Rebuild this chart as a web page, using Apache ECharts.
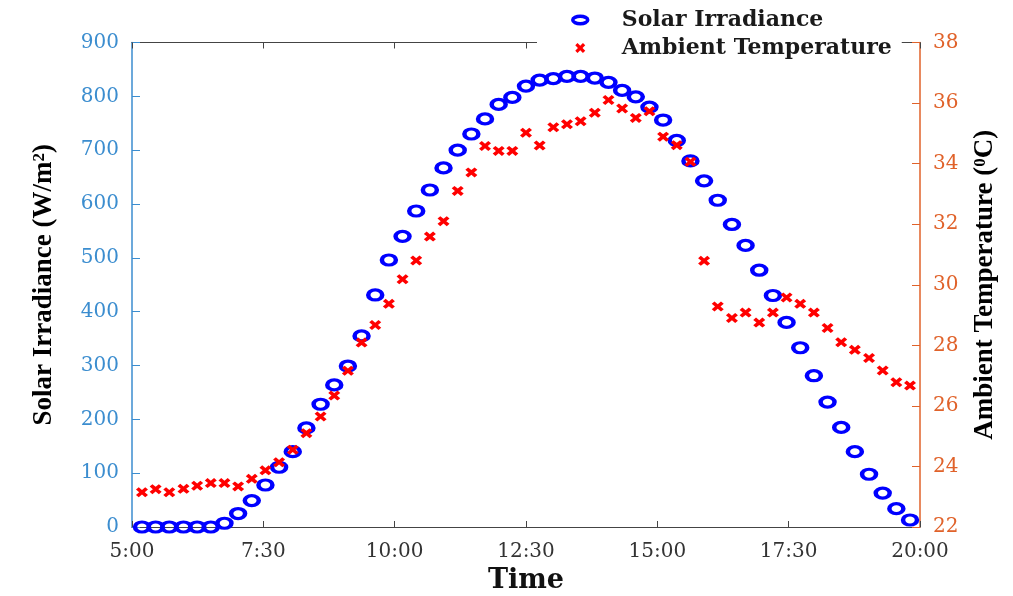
<!DOCTYPE html>
<html>
<head>
<meta charset="utf-8">
<title>Solar Irradiance and Ambient Temperature</title>
<script src="https://cdn.jsdelivr.net/npm/echarts@6.0.0/dist/echarts.min.js"></script>
<style>
  html, body { margin: 0; padding: 0; background: #fff; }
  #chart { width: 1013px; height: 596px; }
</style>
</head>
<body>
<div id="chart"></div>
<script>
// time of each reading, in hours of the day
var hours = [
  5.19, 5.45, 5.71, 5.98, 6.24, 6.50, 6.76, 7.02, 7.28, 7.54,
  7.80, 8.06, 8.32, 8.59, 8.85, 9.11, 9.37, 9.63, 9.89, 10.15,
  10.41, 10.67, 10.93, 11.20, 11.46, 11.72, 11.98, 12.24, 12.50, 12.76,
  13.02, 13.28, 13.54, 13.81, 14.07, 14.33, 14.59, 14.85, 15.11, 15.37,
  15.63, 15.89, 16.15, 16.42, 16.68, 16.94, 17.20, 17.46, 17.72, 17.98,
  18.24, 18.50, 18.76, 19.03, 19.29, 19.55, 19.81
];

// solar irradiance, W/m2
var irradiance = [
  0, 0, 0, 0, 0, 0, 7, 25, 49, 78,
  111, 140, 184, 228, 264, 299, 355, 431, 496, 540,
  587, 626, 667, 700, 730, 758, 785, 798, 819, 830,
  833, 837, 837, 834, 826, 811, 799, 780, 756, 718,
  680, 643, 607, 562, 523, 477, 430, 380, 333, 281,
  232, 185, 140, 98, 63, 34, 13
];

// ambient temperature, degC
var temperature = [
  23.15, 23.25, 23.15, 23.26, 23.36, 23.45, 23.45, 23.34, 23.59, 23.87,
  24.14, 24.55, 25.10, 25.65, 26.34, 27.16, 28.09, 28.67, 29.37, 30.18,
  30.80, 31.59, 32.10, 33.10, 33.71, 34.58, 34.42, 34.42, 35.02, 34.60,
  35.20, 35.30, 35.40, 35.68, 36.10, 35.82, 35.51, 35.73, 34.89, 34.61,
  34.06, 30.79, 29.28, 28.90, 29.08, 28.75, 29.08, 29.58, 29.37, 29.08,
  28.57, 28.10, 27.85, 27.58, 27.17, 26.78, 26.67
];

var seriesNames = ['Solar Irradiance', 'Ambient Temperature'];

var blue = '#3b8dcf';
var orange = '#e0622a';
var serif = 'DejaVu Serif';
var times = 'Liberation Serif';

var ringPath = 'path://M0,5A10,5,0,1,1,20,5A10,5,0,1,1,0,5Z';
var crossPath = 'path://M0,2.3L2.3,0L5,2.7L7.7,0L10,2.3L7.3,5L10,7.7L7.7,10L5,7.3L2.3,10L0,7.7L2.7,5Z';

function pairs(ys) {
  return hours.map(function (h, i) { return [h, ys[i]]; });
}

function timeLabel(v) {
  var h = Math.floor(v);
  var m = Math.round((v - h) * 60);
  return h + ':' + (m < 10 ? '0' + m : m);
}

var chart = echarts.init(document.getElementById('chart'));

var option = {
  animation: false,
  backgroundColor: '#fff',
  grid: {
    left: 132, right: 93, top: 42.5, bottom: 69,
    containLabel: false, outerBoundsMode: 'none'
  },
  legend: {
    orient: 'vertical',
    left: 537, top: 4,
    padding: [4, 10, 4, 34],
    backgroundColor: '#fff',
    itemWidth: 15, itemHeight: 10,
    itemGap: 4,
    selectedMode: false,
    textStyle: {
      fontFamily: serif, fontSize: 22, fontWeight: 'bold', color: '#1a1a1a',
      lineHeight: 24, padding: [0, 0, 0, 29]
    },
    data: [
      {
        name: seriesNames[0], icon: ringPath,
        itemStyle: { color: 'rgba(0,0,0,0)', borderColor: '#0000ff', borderWidth: 3.5 }
      },
      {
        name: seriesNames[1], icon: crossPath,
        itemStyle: { color: '#ff0000', borderWidth: 0 }
      }
    ]
  },
  xAxis: [
    {
      type: 'value', position: 'bottom',
      min: 5, max: 20, interval: 2.5,
      name: 'Time', nameLocation: 'middle', nameGap: 40,
      nameTextStyle: { fontFamily: serif, fontSize: 27, fontWeight: 'bold', color: '#111' },
      axisLine: { show: true, lineStyle: { color: '#444', width: 1 } },
      axisTick: { show: true, inside: true, length: 6, lineStyle: { color: '#444' } },
      axisLabel: { formatter: timeLabel, fontFamily: serif, fontSize: 20, color: '#333', margin: 15 },
      splitLine: { show: false }
    },
    {
      type: 'value', position: 'top',
      min: 5, max: 20, interval: 2.5,
      axisLine: { show: true, lineStyle: { color: '#444', width: 1 } },
      axisTick: { show: true, inside: true, length: 6, lineStyle: { color: '#444' } },
      axisLabel: { show: false },
      splitLine: { show: false }
    }
  ],
  yAxis: [
    {
      type: 'value', position: 'left',
      min: 0, max: 900, interval: 100,
      name: 'Solar Irradiance (W/m{s|2})',
      nameLocation: 'middle', nameRotate: 90, nameGap: 74,
      nameTextStyle: {
        fontFamily: times, fontSize: 27, fontWeight: 'bold', color: '#000',
        rich: { s: { fontFamily: times, fontSize: 17, fontWeight: 'bold', color: '#000', verticalAlign: 'top', lineHeight: 12 } }
      },
      axisLine: { show: true, lineStyle: { color: blue, width: 1.5 } },
      axisTick: { show: true, inside: true, length: 8, lineStyle: { color: blue } },
      axisLabel: { fontFamily: serif, fontSize: 20, color: blue, margin: 13 },
      splitLine: { show: false }
    },
    {
      type: 'value', position: 'right',
      min: 22, max: 38, interval: 2,
      name: 'Ambient Temperature ({s|0}C)',
      nameLocation: 'middle', nameRotate: 90, nameGap: 52,
      nameTextStyle: {
        fontFamily: times, fontSize: 27, fontWeight: 'bold', color: '#000',
        rich: { s: { fontFamily: times, fontSize: 17, fontWeight: 'bold', color: '#000', verticalAlign: 'top', lineHeight: 12 } }
      },
      axisLine: { show: true, lineStyle: { color: orange, width: 1.5 } },
      axisTick: { show: true, inside: true, length: 8, lineStyle: { color: orange } },
      axisLabel: { fontFamily: serif, fontSize: 20, color: orange, margin: 13 },
      splitLine: { show: false }
    }
  ],
  series: [
    {
      name: seriesNames[0], type: 'scatter',
      xAxisIndex: 0, yAxisIndex: 0,
      symbol: ringPath, symbolSize: [14, 10], symbolKeepAspect: false,
      itemStyle: { color: 'rgba(0,0,0,0)', borderColor: '#0000ff', borderWidth: 3.8, opacity: 1 },
      emphasis: { disabled: true },
      z: 2,
      data: pairs(irradiance)
    },
    {
      name: seriesNames[1], type: 'scatter',
      xAxisIndex: 0, yAxisIndex: 1,
      symbol: crossPath, symbolSize: [12, 10], symbolKeepAspect: false,
      itemStyle: { color: '#ff0000', borderWidth: 0, opacity: 1 },
      emphasis: { disabled: true },
      z: 3,
      data: pairs(temperature)
    }
  ]
};

chart.setOption(option);
</script>
</body>
</html>
